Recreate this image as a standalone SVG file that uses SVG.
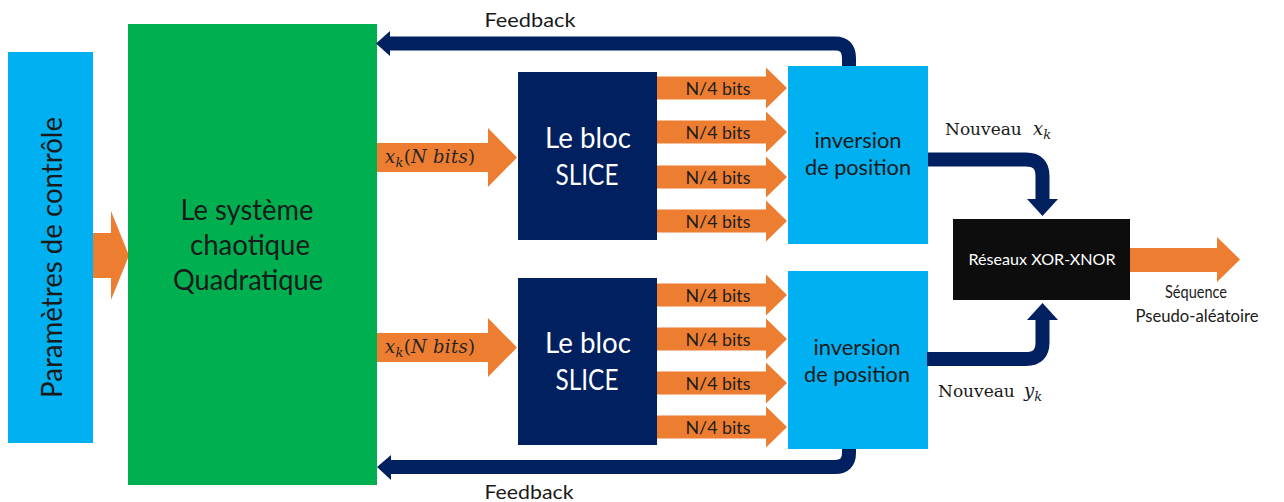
<svg xmlns="http://www.w3.org/2000/svg" width="1284" height="502" viewBox="0 0 1284 502">
  <style>
    .sans { font-family: Lato, "Open Sans", "Liberation Sans", sans-serif; }
    .math { font-family: "DejaVu Serif", "Liberation Serif", serif; }
    .dark { fill: #1a1a1a; }
    .white { fill: #ffffff; }
    .orange { fill: #ED7D31; }
    .cyan { fill: #00B0F0; }
    .green { fill: #00B050; }
    .navy { fill: #002060; }
    .link { fill: none; stroke: #002060; stroke-width: 14; }
    .mid { text-anchor: middle; }
  </style>

  <rect width="1284" height="502" fill="#ffffff"/>

  <!-- data-flow arrows (orange) -->
  <g id="flows">
    <!-- parameters into the chaotic system -->
    <polygon class="orange" points="93,233 111,233 111,211 129,255.5 111,300 111,278 93,278"/>
    <!-- x_k into the SLICE blocks -->
    <polygon class="orange" points="377,143 488,143 488,128 517,157.5 488,187 488,172 377,172"/>
    <polygon class="orange" points="377,333 488,333 488,318 517,347.5 488,377 488,362 377,362"/>
    <!-- N/4-bit slices, upper branch -->
    <polygon class="orange" points="657,76.5 766,76.5 766,67.5 787,88 766,108.5 766,99.5 657,99.5"/>
    <polygon class="orange" points="657,120.5 766,120.5 766,111.5 787,132 766,152.5 766,143.5 657,143.5"/>
    <polygon class="orange" points="657,165.5 766,165.5 766,156.5 787,177 766,197.5 766,188.5 657,188.5"/>
    <polygon class="orange" points="657,209.5 766,209.5 766,200.5 787,221 766,241.5 766,232.5 657,232.5"/>
    <!-- N/4-bit slices, lower branch -->
    <polygon class="orange" points="657,283.5 766,283.5 766,274.5 787,295 766,315.5 766,306.5 657,306.5"/>
    <polygon class="orange" points="657,327.5 766,327.5 766,318.5 787,339 766,359.5 766,350.5 657,350.5"/>
    <polygon class="orange" points="657,371.5 766,371.5 766,362.5 787,383 766,403.5 766,394.5 657,394.5"/>
    <polygon class="orange" points="657,415.5 766,415.5 766,406.5 787,427 766,447.5 766,438.5 657,438.5"/>
    <!-- output sequence -->
    <polygon class="orange" points="1130,248 1217,248 1217,237 1240,259.5 1217,282 1217,272 1130,272"/>

    <g class="math" font-size="18" fill="#262626">
      <text x="385" y="163" textLength="90"><tspan font-style="italic">x</tspan><tspan font-style="italic" font-size="13" dy="4">k</tspan><tspan dy="-4">(</tspan><tspan font-style="italic">N bits</tspan>)</text>
      <text x="385" y="353" textLength="90"><tspan font-style="italic">x</tspan><tspan font-style="italic" font-size="13" dy="4">k</tspan><tspan dy="-4">(</tspan><tspan font-style="italic">N bits</tspan>)</text>
    </g>
    <g class="sans mid" font-size="18" fill="#1e1e1e">
      <text x="718" y="95" textLength="65" lengthAdjust="spacingAndGlyphs">N/4 bits</text>
      <text x="718" y="139" textLength="65" lengthAdjust="spacingAndGlyphs">N/4 bits</text>
      <text x="718" y="184" textLength="65" lengthAdjust="spacingAndGlyphs">N/4 bits</text>
      <text x="718" y="228" textLength="65" lengthAdjust="spacingAndGlyphs">N/4 bits</text>
      <text x="718" y="302" textLength="65" lengthAdjust="spacingAndGlyphs">N/4 bits</text>
      <text x="718" y="346" textLength="65" lengthAdjust="spacingAndGlyphs">N/4 bits</text>
      <text x="718" y="390" textLength="65" lengthAdjust="spacingAndGlyphs">N/4 bits</text>
      <text x="718" y="434" textLength="65" lengthAdjust="spacingAndGlyphs">N/4 bits</text>
    </g>
  </g>

  <!-- blocks -->
  <g id="params">
    <rect class="cyan" x="8" y="52" width="85" height="391"/>
    <text class="sans dark mid" font-size="29" transform="translate(62,257.5) rotate(-90)" textLength="281" lengthAdjust="spacingAndGlyphs">Paramètres de contrôle</text>
  </g>

  <g id="chaotic-system">
    <rect class="green" x="128" y="24" width="249" height="461"/>
    <g class="sans dark mid" font-size="29">
      <text x="247" y="220" textLength="133" lengthAdjust="spacingAndGlyphs">Le système</text>
      <text x="250" y="255" textLength="120" lengthAdjust="spacingAndGlyphs">chaotique</text>
      <text x="248" y="290" textLength="150" lengthAdjust="spacingAndGlyphs">Quadratique</text>
    </g>
  </g>

  <g id="slice-top">
    <rect class="navy" x="518" y="72" width="139" height="168"/>
    <g class="sans white mid" font-size="29">
      <text x="588" y="148" textLength="86" lengthAdjust="spacingAndGlyphs">Le bloc</text>
      <text x="587" y="185" textLength="63" lengthAdjust="spacingAndGlyphs">SLICE</text>
    </g>
  </g>

  <g id="slice-bottom">
    <rect class="navy" x="518" y="278" width="139" height="167"/>
    <g class="sans white mid" font-size="29">
      <text x="588" y="353" textLength="86" lengthAdjust="spacingAndGlyphs">Le bloc</text>
      <text x="587" y="390" textLength="63" lengthAdjust="spacingAndGlyphs">SLICE</text>
    </g>
  </g>

  <g id="inversion-top">
    <rect class="cyan" x="788" y="66" width="140" height="178"/>
    <g class="sans dark mid" font-size="21">
      <text x="858" y="148" textLength="87" lengthAdjust="spacingAndGlyphs">inversion</text>
      <text x="858" y="175" textLength="106" lengthAdjust="spacingAndGlyphs">de position</text>
    </g>
  </g>

  <g id="inversion-bottom">
    <rect class="cyan" x="788" y="271" width="140" height="178"/>
    <g class="sans dark mid" font-size="21">
      <text x="857" y="355" textLength="87" lengthAdjust="spacingAndGlyphs">inversion</text>
      <text x="857" y="382" textLength="106" lengthAdjust="spacingAndGlyphs">de position</text>
    </g>
  </g>

  <g id="xor-xnor">
    <rect x="953" y="219" width="177" height="81" fill="#0d0d0d"/>
    <text class="sans white mid" x="1042" y="265" font-size="15" textLength="147" lengthAdjust="spacingAndGlyphs">Réseaux XOR-XNOR</text>
  </g>

  <!-- feedback and output connectors (navy) -->
  <g id="connectors">
    <path class="link" stroke-width="13" d="M849,66 V58 Q849,43.5 835,43.5 H388"/>
    <polygon class="navy" points="390,31 376,43.5 390,56"/>
    <path class="link" stroke-width="13" d="M849,449 V453 Q849,467 835,467 H389"/>
    <polygon class="navy" points="391,455 377,467 391,480"/>
    <path class="link" stroke-width="15" d="M928,159.5 H1026 Q1042.5,159.5 1042.5,176 V200"/>
    <polygon class="navy" points="1027,199 1058,199 1042.5,216"/>
    <path class="link" stroke-width="15" d="M927,359 H1026 Q1042.5,359 1042.5,342.5 V319"/>
    <polygon class="navy" points="1027,320 1058,320 1042.5,303"/>
  </g>

  <!-- connector labels -->
  <g id="labels">
    <g class="sans dark mid" font-size="19">
      <text x="530" y="27" textLength="91" lengthAdjust="spacingAndGlyphs">Feedback</text>
      <text x="529" y="499" textLength="89" lengthAdjust="spacingAndGlyphs">Feedback</text>
      <text x="1196" y="298" font-size="18" textLength="62" lengthAdjust="spacingAndGlyphs">Séquence</text>
      <text x="1197" y="322" font-size="18" textLength="123" lengthAdjust="spacingAndGlyphs">Pseudo-aléatoire</text>
    </g>
    <g class="math" font-size="18" fill="#1a1a1a">
      <text x="945" y="135"><tspan font-size="17">Nouveau</tspan><tspan x="1033" font-style="italic">x</tspan><tspan font-style="italic" font-size="13" dy="4">k</tspan></text>
      <text x="938" y="397"><tspan font-size="17">Nouveau</tspan><tspan x="1024" font-style="italic">y</tspan><tspan font-style="italic" font-size="13" dy="4">k</tspan></text>
    </g>
  </g>
</svg>
